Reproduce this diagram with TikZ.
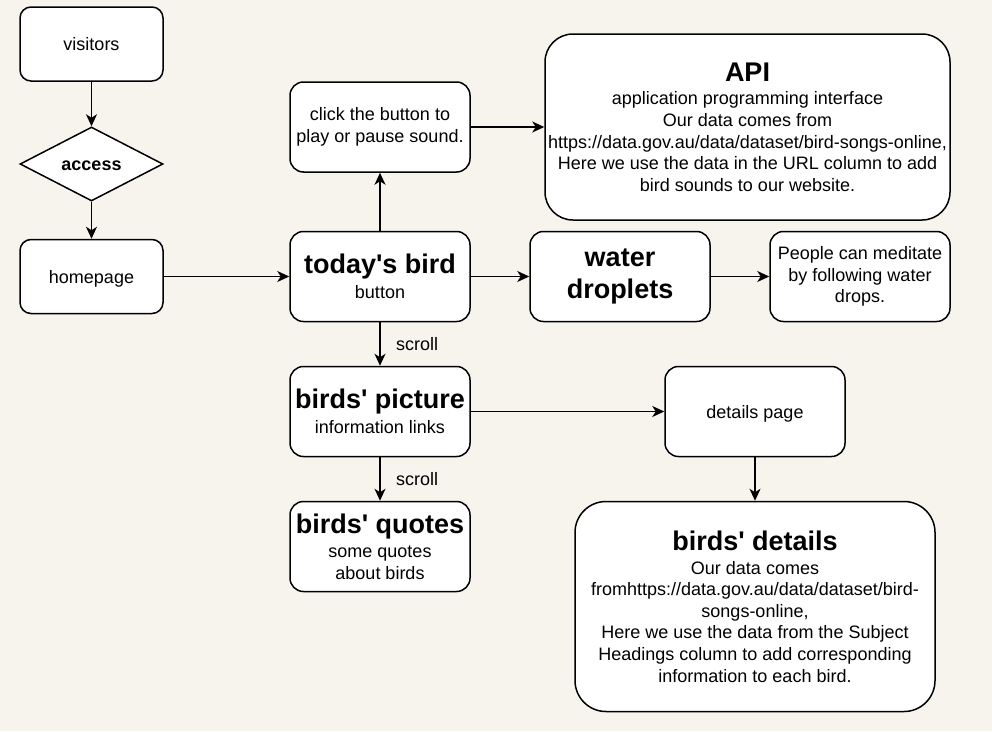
\documentclass[tikz,border=0pt]{standalone}
\usepackage{fontspec}
\setmainfont{Liberation Sans}[Ligatures=TeXOff]
\usetikzlibrary{arrows.meta, shapes.geometric}
\definecolor{paper}{RGB}{247,244,238}

% bold heading line inside a box
\newcommand{\hd}[1]{{\fontsize{27}{32}\selectfont\bfseries #1}}

\begin{document}
\begin{tikzpicture}[x=1pt, y=-1pt,
	every node/.style={font=\fontsize{18}{21.6}\selectfont, align=center},
	box/.style={draw, fill=white, line width=1.5pt, rounded corners=11pt,
		minimum width=143pt, minimum height=74pt, inner sep=2pt},
	card/.style={box, minimum width=180pt, minimum height=90pt, rounded corners=13.5pt},
	oneline/.style={text height=14pt, text depth=1pt},
	arr/.style={line width=1.5pt, -{Stealth[length=12pt, width=11pt, inset=3.5pt]}}]

	\fill[paper] (0,0) rectangle (992,731);
	\useasboundingbox (0,0) rectangle (992,731);

	% left column
	\node[box, oneline] (visitors) at (91.5,44) {visitors};
	\node[draw, fill=white, line width=1.5pt, diamond, shape aspect=2,
		minimum width=143pt, minimum height=74pt, inner sep=0pt, oneline,
		font=\fontsize{18}{21.6}\selectfont\bfseries] (access) at (91.5,164) {access};
	\node[box, oneline] (home) at (91.5,276.5) {homepage};

	% pages
	\node[card] (click) at (380,127) {click the button to\\play or pause sound.};
	\node[card, minimum width=405pt, minimum height=186pt, rounded corners=28pt] (api) at (747.5,127)
		{\hd{API}\\[2pt]application programming interface\\Our data comes from\\https://data.gov.au/data/dataset/bird-songs-online,\\Here we use the data in the URL column to add\\bird sounds to our website.};
	\node[card] (today) at (380,276.5) {\hd{today's bird}\\[3pt]button};
	\node[card, font=\fontsize{27}{32.4}\selectfont\bfseries] (water) at (620,276.5) {water\\droplets};
	\node[card] (calm) at (860,276.5) {People can meditate\\by following water\\drops.};
	\node[card] (picture) at (380,411.5) {\hd{birds' picture}\\[3pt]information links};
	\node[card, oneline] (page) at (755,411.5) {details page};
	\node[card] (quotes) at (380,546.5) {\hd{birds' quotes}\\[3pt]some quotes\\about birds};
	\node[card, minimum width=360pt, minimum height=210pt, rounded corners=31pt] (info) at (755,606.5)
		{\hd{birds' details}\\[2pt]Our data comes\\fromhttps://data.gov.au/data/dataset/bird-\\songs-online,\\Here we use the data from the Subject\\Headings column to add corresponding\\information to each bird.};

	% connectors
	\draw[arr] (visitors) -- (access);
	\draw[arr] (access) -- (home);
	\draw[arr] (home) -- (today);
	\draw[arr] (today) -- (click);
	\draw[arr] (click) -- (api);
	\draw[arr] (today) -- (water);
	\draw[arr] (water) -- (calm);
	\draw[arr] (today) -- node[right=12pt] {scroll} (picture);
	\draw[arr] (picture) -- (page);
	\draw[arr] (page) -- (info);
	\draw[arr] (picture) -- node[right=12pt] {scroll} (quotes);

\end{tikzpicture}
\end{document}
